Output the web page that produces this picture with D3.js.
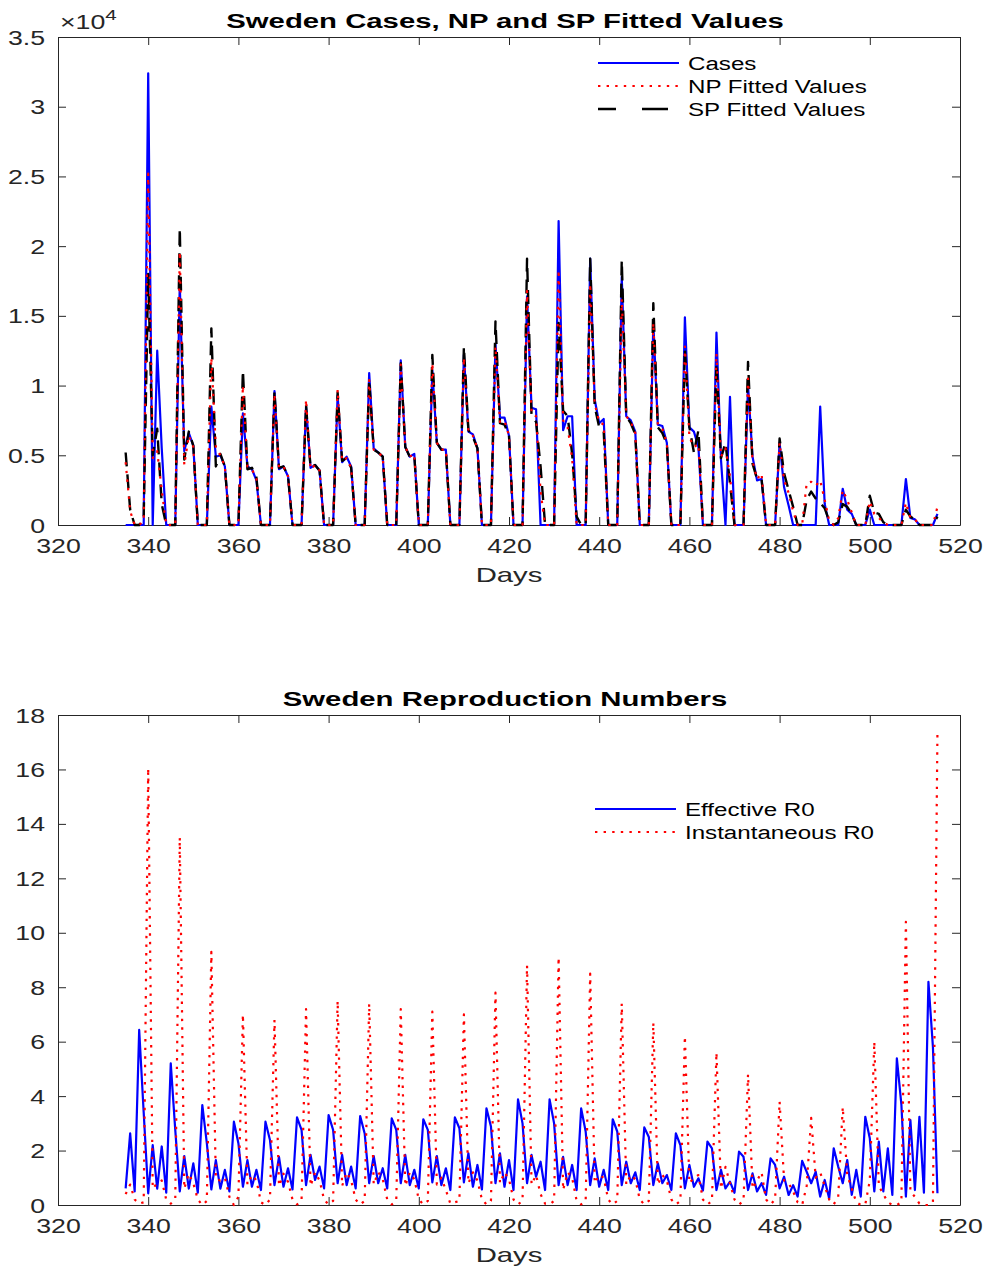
<!DOCTYPE html>
<html>
<head>
<meta charset="utf-8">
<script src="https://cdn.jsdelivr.net/npm/d3@7"></script>
<style>
  body { margin: 0; background: #fff; }
  svg { display: block; font-family: "Liberation Sans", Arial, Helvetica, sans-serif; }
  .tick text { fill: #262626; font-size: 19.5px; }
  .tick line, .domain { stroke: #262626; stroke-width: 1; }
</style>
</head>
<body>
<div id="chart"></div>
<script>
// Days on the x axis (day 335 .. 515)
const days = d3.range(335, 516)

// Daily cases, thousands (rows are weeks starting on the Tuesday peak)
const casesK = [
  0, 0, 0, 0, 0,
  32.4, 0, 12.5, 5.5, 0, 0, 0,
  17.3, 5.3, 6.6, 5.7, 0, 0, 0,
  8.5, 4.9, 5.0, 4.2, 0, 0, 0,
  8.0, 4.2, 4.0, 3.2, 0, 0, 0,
  9.6, 4.0, 4.2, 3.5, 0, 0, 0,
  8.5, 4.1, 4.3, 3.9, 0, 0, 0,
  9.3, 4.5, 4.9, 4.2, 0, 0, 0,
  10.9, 5.5, 5.2, 4.9, 0, 0, 0,
  11.8, 5.6, 4.9, 5.1, 0, 0, 0,
  11.1, 5.9, 5.4, 5.4, 0, 0, 0,
  12.2, 6.7, 6.5, 5.5, 0, 0, 0,
  13.0, 7.7, 7.7, 6.4, 0, 0, 0,
  16.4, 8.4, 8.3, 0, 0, 0, 0,
  21.8, 6.8, 7.8, 7.8, 0, 0, 0,
  19.1, 9.0, 7.3, 7.6, 0, 0, 0,
  17.8, 7.8, 7.5, 6.7, 0, 0, 0,
  14.5, 7.2, 7.1, 5.9, 0, 0, 0,
  14.9, 7.0, 6.7, 5.6, 0, 0, 0,
  13.8, 4.7, 0, 9.2, 0, 0, 0,
  10.0, 4.9, 3.2, 3.3, 0, 0, 0,
  5.9, 2.7, 1.4, 0, 0, 0, 0,
  0, 0, 8.5, 1.5, 0, 0, 0,
  2.6, 1.1, 0.8, 0, 0, 0, 1.1,
  0, 0, 0, 0, 0, 0, 0,
  3.3, 0.5, 0.4, 0, 0, 0, 0,
  0.8
]

// NP fitted values, thousands
const npK = [
  4.5, 1.0, 0, 0, 0.3,
  25.2, 4.8, 5.3, 2.5, 0, 0, 0,
  19.6, 4.3, 6.4, 5.6, 0, 0, 0,
  12.0, 5.6, 5.0, 4.2, 0, 0, 0,
  10.0, 4.2, 4.0, 3.3, 0, 0, 0,
  9.4, 4.1, 4.2, 3.5, 0, 0, 0,
  9.0, 4.0, 4.3, 3.9, 0, 0, 0,
  9.7, 4.6, 4.8, 4.1, 0, 0, 0,
  10.4, 5.4, 5.2, 4.9, 0, 0, 0,
  11.5, 5.6, 4.9, 5.1, 0, 0, 0,
  11.6, 5.9, 5.4, 5.4, 0, 0, 0,
  12.0, 6.7, 6.4, 5.5, 0, 0, 0,
  12.8, 7.4, 7.5, 6.4, 0, 0, 0,
  16.8, 8.0, 7.8, 2.4, 0, 0, 0,
  18.3, 7.5, 7.0, 4.8, 0, 0, 0,
  17.3, 8.7, 7.4, 7.2, 0, 0, 0,
  16.2, 7.8, 7.4, 6.6, 0, 0, 0,
  14.5, 7.2, 6.9, 5.9, 0, 0, 0,
  12.8, 6.3, 5.6, 5.8, 0, 0, 0,
  12.3, 4.9, 5.5, 3.5, 0, 0, 0,
  10.5, 4.6, 3.3, 3.7, 0, 0, 0,
  5.9, 3.2, 2.3, 1.0, 0, 0, 3.0,
  3.1, 2.8, 3.2, 1.8, 0.3, 0, 0.5,
  2.5, 1.8, 0.9, 0, 0, 0, 1.7,
  0.8, 0.5, 0.2, 0, 0, 0, 0,
  1.6, 0.5, 0.4, 0, 0, 0, 0,
  1.3
]

// SP fitted values, thousands
const spK = [
  5.2, 1.1, 0, 0, 0.5,
  18.0, 5.0, 6.9, 1.5, 0, 0, 0,
  21.3, 4.7, 6.7, 5.7, 0, 0, 0,
  14.1, 4.2, 5.1, 4.2, 0, 0, 0,
  11.1, 4.0, 4.1, 3.4, 0, 0, 0,
  9.6, 4.1, 4.2, 3.5, 0, 0, 0,
  8.6, 4.1, 4.3, 3.9, 0, 0, 0,
  9.5, 4.6, 4.8, 4.1, 0, 0, 0,
  10.4, 5.4, 5.2, 4.9, 0, 0, 0,
  11.6, 5.6, 4.9, 5.0, 0, 0, 0,
  12.2, 5.9, 5.4, 5.4, 0, 0, 0,
  12.8, 6.8, 6.3, 5.5, 0, 0, 0,
  14.6, 7.3, 7.2, 6.4, 0, 0, 0,
  19.1, 7.8, 7.4, 4.2, 0, 0, 0,
  14.5, 8.2, 7.8, 5.1, 0.6, 0, 0,
  19.1, 8.5, 7.0, 6.7, 0, 0, 0,
  19.0, 7.8, 7.3, 6.5, 0, 0, 0,
  15.9, 7.0, 6.6, 5.8, 0, 0, 0,
  12.6, 7.0, 5.2, 6.8, 0, 0, 0,
  11.6, 4.8, 5.9, 3.0, 0, 0, 0,
  11.7, 4.4, 3.3, 3.3, 0, 0, 0,
  6.2, 3.7, 2.5, 1.3, 0, 0, 1.8,
  2.4, 1.9, 1.6, 1.2, 0.3, 0, 0.2,
  1.5, 1.3, 0.8, 0, 0, 0, 2.1,
  0.9, 0.8, 0.2, 0, 0, 0, 0,
  1.1, 0.6, 0.4, 0, 0, 0, 0,
  0.6
]

// Effective R0
const effectiveR = [
  0.61, 2.63, 0.5, 6.43, 3.4,
  0.43, 2.2, 0.6, 2.15, 0.45, 5.2, 2.76,
  0.5, 1.8, 0.6, 1.53, 0.45, 3.67, 2.27,
  0.57, 1.65, 0.6, 1.29, 0.5, 3.06, 2.27,
  0.67, 1.65, 0.67, 1.29, 0.55, 3.06, 2.39,
  0.73, 1.77, 0.67, 1.35, 0.57, 3.22, 2.76,
  0.73, 1.84, 0.92, 1.41, 0.61, 3.3, 2.76,
  0.8, 1.84, 0.73, 1.41, 0.61, 3.27, 2.63,
  0.8, 1.8, 0.8, 1.35, 0.61, 3.18, 2.76,
  0.8, 1.84, 0.73, 1.29, 0.61, 3.15, 2.76,
  0.83, 1.8, 0.73, 1.35, 0.55, 3.22, 2.82,
  0.83, 1.9, 0.67, 1.47, 0.57, 3.55, 2.88,
  0.8, 1.9, 0.67, 1.65, 0.55, 3.88, 3.0,
  0.8, 1.84, 1.04, 1.59, 0.55, 3.88, 3.0,
  0.73, 1.77, 0.73, 1.47, 0.55, 3.55, 2.7,
  0.73, 1.71, 0.67, 1.29, 0.55, 3.15, 2.7,
  0.73, 1.59, 0.8, 1.2, 0.55, 2.85, 2.5,
  0.73, 1.53, 0.8, 1.1, 0.55, 2.63, 2.2,
  0.61, 1.47, 0.67, 0.98, 0.53, 2.33, 2.08,
  0.55, 1.29, 0.61, 0.86, 0.45, 1.96, 1.77,
  0.55, 1.16, 0.5, 0.8, 0.37, 1.71, 1.47,
  0.61, 1.04, 0.37, 0.73, 0.31, 1.62, 1.22,
  0.8, 1.22, 0.31, 0.92, 0.24, 2.08, 1.41,
  0.8, 1.65, 0.37, 1.29, 0.31, 3.24, 2.45,
  0.5, 2.33, 0.5, 2.08, 0.37, 5.39, 3.7,
  0.31, 3.12, 0.55, 3.24, 0.45, 8.2, 5.8,
  0.43
]

// Instantaneous R0
const instantR = [
  0.4, 0.75, 0.2, 0.05, 0.1,
  16.05, 0.6, 0.8, 0.9, 0.2, 0.05, 0.2,
  13.5, 0.6, 1.15, 0.8, 0.2, 0.0, 0.15,
  9.3, 0.95, 0.9, 1.0, 0.3, 0.0, 0.3,
  7.0, 0.75, 1.1, 0.9, 0.1, 0.0, 0.2,
  6.8, 0.7, 1.15, 0.85, 0.2, 0.02, 0.15,
  7.2, 0.7, 1.2, 0.9, 0.2, 0.02, 0.15,
  7.5, 0.7, 1.2, 0.9, 0.2, 0.02, 0.15,
  7.4, 0.75, 1.2, 0.95, 0.2, 0.02, 0.15,
  7.2, 0.7, 1.2, 0.95, 0.2, 0.02, 0.15,
  7.1, 0.75, 1.0, 0.55, 0.05, 0.1, 0.15,
  7.0, 0.8, 1.2, 0.9, 0.2, 0.02, 0.15,
  7.8, 0.8, 1.2, 0.95, 0.2, 0.02, 0.15,
  8.8, 0.75, 1.1, 0.4, 0.05, 0.02, 0.15,
  9.1, 0.55, 1.2, 1.0, 0.15, 0.02, 0.15,
  8.5, 0.8, 1.1, 1.0, 0.2, 0.02, 0.15,
  7.4, 0.75, 1.1, 0.95, 0.2, 0.02, 0.15,
  6.7, 0.75, 1.1, 0.9, 0.2, 0.02, 0.15,
  6.2, 0.8, 1.0, 1.1, 0.2, 0.02, 0.15,
  5.6, 0.6, 1.4, 0.8, 0.2, 0.02, 0.15,
  4.8, 0.6, 0.9, 1.2, 0.2, 0.02, 0.2,
  3.8, 0.9, 0.8, 0.5, 0.1, 0.0, 0.7,
  3.2, 1.0, 1.2, 0.7, 0.2, 0.02, 0.3,
  3.6, 1.1, 0.6, 0.1, 0.0, 0.02, 0.9,
  6.0, 0.7, 0.4, 0.1, 0.0, 0.0, 0.1,
  10.4, 0.5, 0.3, 0.05, 0.0, 0.0, 0.1,
  17.4
]

// Tick values
const xTicks = d3.range(320, 521, 20)
const topYTicks = d3.range(0, 35001, 5000)
const bottomYTicks = d3.range(0, 19, 2)

// Line styles (legend dash is drawn longer, like the original legend)
const styles = {
    cases: { color: '#0000ff', width: 2.2, dash: null },
    np: { color: '#ff0000', width: 2.2, dash: '2.4,6.2' },
    sp: { color: '#000000', width: 2.4, dash: '14,8', legendDash: '18,26,26,30' },
    eff: { color: '#0000ff', width: 2.2, dash: null },
    inst: { color: '#ff0000', width: 2.2, dash: '2.4,6.2' }
}

// The original figure's text is stretched sideways, so each text gets an x scale
const tickStretch = 1.37
const titleStretch = 1.43
const legendStretch = 1.27

const svg = d3.select('#chart').append('svg')
    .attr('width', 988)
    .attr('height', 1271)

function addText(g, x, y, str, size, opts = {}) {
    return g.append('text')
        .attr('transform', `translate(${x},${y}) scale(${opts.sx || 1},1)`)
        .attr('text-anchor', opts.anchor || 'start')
        .style('font-size', size + 'px')
        .style('font-weight', opts.bold ? 'bold' : 'normal')
        .style('fill', opts.fill || '#000')
        .text(str)
}

function drawPanel(p) {
    let x = d3.scaleLinear().domain([320, 520]).range([p.left, p.right])
    let y = d3.scaleLinear().domain(p.yDomain).range([p.bottom, p.top])

    let g = svg.append('g')

    // Axes with inward ticks on all four sides
    let xAxis = g.append('g')
        .attr('transform', `translate(0,${p.bottom})`)
        .call(d3.axisBottom(x).tickValues(xTicks).tickSize(-8).tickSizeOuter(0))
    g.append('g')
        .attr('transform', `translate(0,${p.top})`)
        .call(d3.axisTop(x).tickValues(xTicks).tickSize(-8).tickSizeOuter(0).tickFormat(''))
    let yAxis = g.append('g')
        .attr('transform', `translate(${p.left},0)`)
        .call(d3.axisLeft(y).tickValues(p.yTicks).tickSize(-8).tickSizeOuter(0).tickFormat(p.yFormat))
    g.append('g')
        .attr('transform', `translate(${p.right},0)`)
        .call(d3.axisRight(y).tickValues(p.yTicks).tickSize(-8).tickSizeOuter(0).tickFormat(''))

    g.selectAll('g').attr('font-family', null).attr('font-size', null)

    // Stretched tick labels
    xAxis.selectAll('.tick text')
        .attr('x', null).attr('y', null).attr('dy', null)
        .attr('transform', `translate(0,28) scale(${tickStretch},1)`)
    yAxis.selectAll('.tick text')
        .attr('x', null).attr('dy', null)
        .attr('transform', `translate(-13,7) scale(${tickStretch},1)`)

    // Series lines
    p.series.forEach(s => {
        let line = d3.line()
            .x((d, i) => x(days[i]))
            .y(d => y(d))
        g.append('path')
            .datum(s.values)
            .attr('fill', 'none')
            .attr('stroke', s.style.color)
            .attr('stroke-width', s.style.width)
            .attr('stroke-dasharray', s.style.dash)
            .attr('stroke-linejoin', 'round')
            .attr('d', line)
    })

    // Title
    addText(g, 505, p.top - 9, p.title, 20.5,
        { anchor: 'middle', bold: true, sx: titleStretch })

    // X label
    addText(g, 509, p.bottom + 57, 'Days', 20.5,
        { anchor: 'middle', sx: titleStretch, fill: '#262626' })

    // Legend (no box)
    p.legend.items.forEach((item, i) => {
        let ly = p.legend.y + i * 23
        g.append('line')
            .attr('x1', p.legend.x)
            .attr('x2', p.legend.x + 81)
            .attr('y1', ly)
            .attr('y2', ly)
            .attr('stroke', item.style.color)
            .attr('stroke-width', item.style.width)
            .attr('stroke-dasharray', item.style.legendDash || item.style.dash)
        addText(g, p.legend.x + 90, ly + 7, item.label, 19, { sx: legendStretch })
    })

    return g
}

// Top panel: cases and fitted values
let topPanel = drawPanel({
    left: 58, right: 960, top: 37, bottom: 525,
    yDomain: [0, 35000],
    yTicks: topYTicks,
    yFormat: d => d / 10000,
    title: 'Sweden Cases, NP and SP Fitted Values',
    series: [
        { values: casesK.map(v => v * 1000), style: styles.cases },
        { values: spK.map(v => v * 1000), style: styles.sp },
        { values: npK.map(v => v * 1000), style: styles.np }
    ],
    legend: {
        x: 598, y: 63,
        items: [
            { label: 'Cases', style: styles.cases },
            { label: 'NP Fitted Values', style: styles.np },
            { label: 'SP Fitted Values', style: styles.sp }
        ]
    }
})

// Exponent label for the top y axis
let expo = addText(topPanel, 60, 29, '', 19.5, { sx: tickStretch, fill: '#262626' })
expo.append('tspan').text('\u00d710')
expo.append('tspan').attr('dy', -9).style('font-size', '15px').text('4')

// Bottom panel: reproduction numbers
drawPanel({
    left: 58, right: 960, top: 715, bottom: 1205,
    yDomain: [0, 18],
    yTicks: bottomYTicks,
    yFormat: d => d,
    title: 'Sweden Reproduction Numbers',
    series: [
        { values: effectiveR, style: styles.eff },
        { values: instantR, style: styles.inst }
    ],
    legend: {
        x: 595, y: 809,
        items: [
            { label: 'Effective R0', style: styles.eff },
            { label: 'Instantaneous R0', style: styles.inst }
        ]
    }
})
</script>
</body>
</html>
